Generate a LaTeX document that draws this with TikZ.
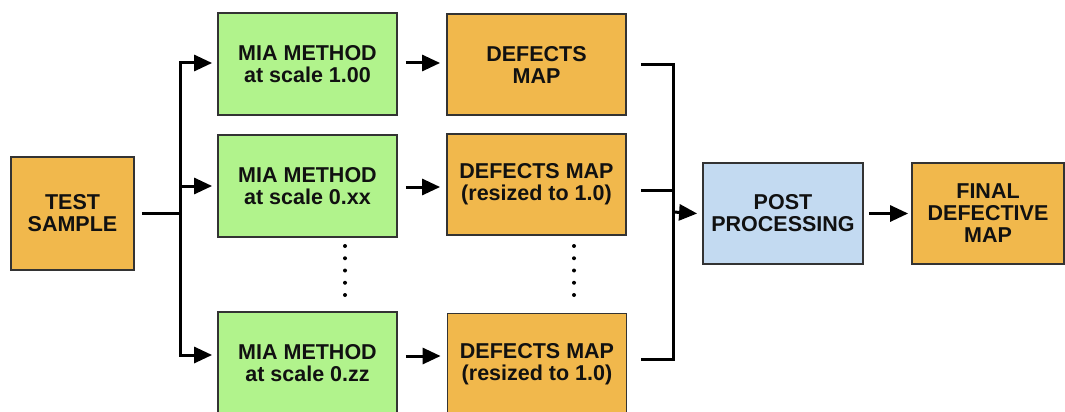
\documentclass[tikz,border=0pt]{standalone}
\usepackage{fontspec}
\setmainfont{Liberation Sans}
\usetikzlibrary{arrows.meta,calc}
\definecolor{orangebox}{HTML}{F1B84C}
\definecolor{greenbox}{HTML}{B1F38C}
\definecolor{bluebox}{HTML}{C3DAF1}
\definecolor{edge}{HTML}{333333}
\definecolor{txt}{HTML}{111111}
\tikzset{
  box/.style={draw=edge, line width=1.8pt, align=center, text=txt,
    font=\bfseries\fontsize{21.5}{22}\selectfont, inner sep=0pt},
  obox/.style={box, fill=orangebox},
  gbox/.style={box, fill=greenbox, minimum width=179pt, minimum height=102pt},
  bbox/.style={box, fill=bluebox},
  ln/.style={draw=black, line width=3pt},
  arr/.style={ln, -{Triangle[length=18pt,width=16pt]}},
  dot/.style={fill=black}
}
\begin{document}
\begin{tikzpicture}[x=1pt,y=-1pt]
\useasboundingbox (0,0) rectangle (1065,412);
\clip (0,0) rectangle (1065,412);
% nodes
\node[obox, minimum width=123pt, minimum height=113pt] (ts) at (72.5,213.5) {TEST\\SAMPLE};
\node[gbox] (g1) at (307.5,64) {MIA METHOD\\at scale 1.00};
\node[gbox] (g2) at (307.5,186) {MIA METHOD\\at scale 0.xx};
\node[gbox] (g3) at (307.5,363) {MIA METHOD\\at scale 0.zz};
\node[obox, minimum width=179pt, minimum height=101pt] (o1) at (536.5,64.5) {DEFECTS\\MAP};
\node[obox, minimum width=179pt, minimum height=101pt] (o2) at (536.5,184.5) {DEFECTS MAP\\(resized to 1.0)};
\node[obox, minimum width=179pt, minimum height=101pt] (o3) at (537,364) {DEFECTS MAP\\(resized to 1.0)};
\node[bbox, minimum width=160pt, minimum height=101pt] (pp) at (783,213.5) {POST\\PROCESSING};
\node[obox, minimum width=152pt, minimum height=101pt] (fd) at (988,213.5) {FINAL\\DEFECTIVE\\MAP};
% split
\coordinate (split) at (180,213);
\coordinate (merge) at (673,212);
\coordinate (a1) at ([xshift=-5pt,yshift=1pt]g1.west);
\coordinate (a2) at ([xshift=-5pt]g2.west);
\coordinate (a3) at ([xshift=-5pt,yshift=8pt]g3.west);
\draw[ln] ([xshift=7pt]ts.east |- split) -- (split);
\draw[arr] (split) |- (a1);
\draw[arr] (split) |- (a3);
\draw[arr] (split |- a2) -- (a2);
% middle arrows
\coordinate (b1) at ([xshift=8pt,yshift=1pt]g1.east);
\coordinate (b2) at ([xshift=8pt,yshift=-1pt]g2.east);
\coordinate (b3) at ([xshift=8pt,yshift=7pt]g3.east);
\draw[arr] (b1) -- ([xshift=-6pt]b1 -| o1.west);
\draw[arr] (b2) -- ([xshift=-6pt]b2 -| o2.west);
\draw[arr] (b3) -- ([xshift=-6pt]b3 -| o3.west);
% merge
\coordinate (c1) at ([xshift=14pt]o1.east);
\coordinate (c2) at ([xshift=14pt,yshift=-5.5pt]o2.east);
\coordinate (c3) at ([xshift=14pt,yshift=5pt]o3.east);
\draw[ln] (c1) -| (merge) |- (c3);
\draw[ln] (c2) -- (c2 -| merge);
\draw[arr] (merge) -- ([xshift=-5pt]pp.west);
\draw[arr] ([xshift=5pt]pp.east) -- ([xshift=-3pt]fd.west);
% dots
\foreach \y in {246,258.25,270.5,282.75,295} {
  \fill[dot] (345,\y) circle (2pt);
  \fill[dot] (574,\y) circle (2pt);
}
\end{tikzpicture}
\end{document}
